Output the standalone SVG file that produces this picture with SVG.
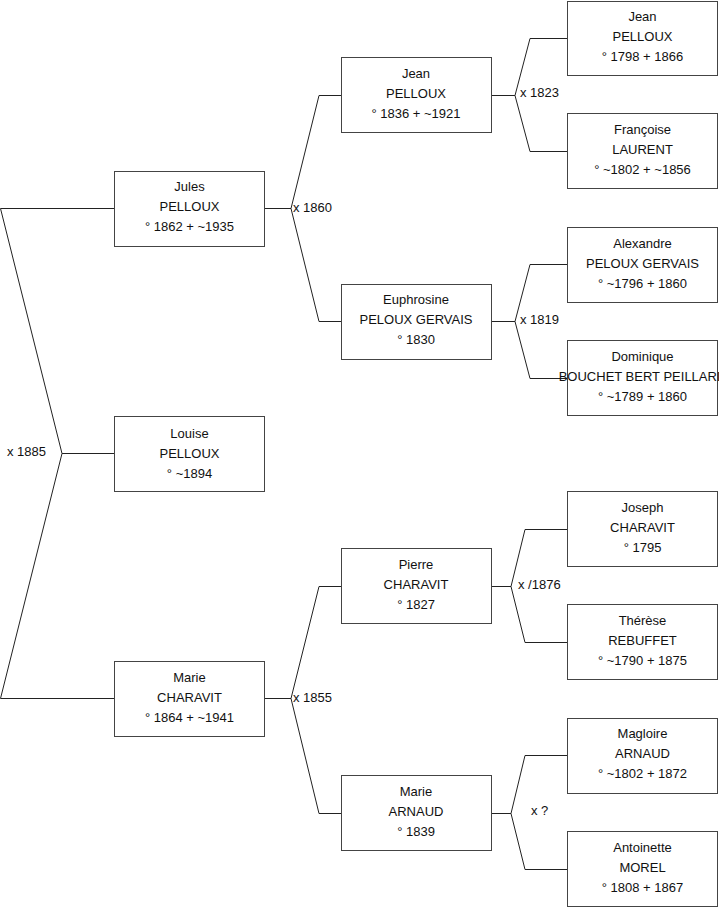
<svg xmlns="http://www.w3.org/2000/svg" width="719" height="908" viewBox="0 0 719 908">
<style>
.box{fill:#fff;stroke:#444;stroke-width:1}
.t{font-family:"Liberation Sans",Arial,sans-serif;font-size:13px;fill:#111;text-anchor:middle}
.l{font-family:"Liberation Sans",Arial,sans-serif;font-size:13px;fill:#111}
.c{fill:none;stroke:#222;stroke-width:1}
</style>
<g id="connectors">
<polyline class="c" points="114,208.5 0.5,208.5 62,453.5 0.5,698.5 114,698.5"/>
<line class="c" x1="62" y1="453.5" x2="114" y2="453.5"/>
<polyline class="c" points="265,208.5 291,208.5"/>
<polyline class="c" points="341,95.5 319,95.5 291,208.5 319,321.5 341,321.5"/>
<polyline class="c" points="265,698.5 291,698.5"/>
<polyline class="c" points="341,586.5 319,586.5 291,698.5 319,813.5 341,813.5"/>
<polyline class="c" points="491,95.5 515,95.5"/>
<polyline class="c" points="567,38.5 530,38.5 515,95.5 530,151.5 567,151.5"/>
<polyline class="c" points="491,321.5 515,321.5"/>
<polyline class="c" points="567,264.5 530,264.5 515,321.5 530,378.5 567,378.5"/>
<polyline class="c" points="491,586.5 511,586.5"/>
<polyline class="c" points="567,529.5 525,529.5 511,586.5 525,642.5 567,642.5"/>
<polyline class="c" points="491,813.5 511,813.5"/>
<polyline class="c" points="567,755.5 525,755.5 511,813.5 525,869.5 567,869.5"/>
<text class="l" x="7" y="456">x 1885</text>
<text class="l" x="293" y="212">x 1860</text>
<text class="l" x="293" y="702">x 1855</text>
<text class="l" x="520" y="97">x 1823</text>
<text class="l" x="520" y="324">x 1819</text>
<text class="l" x="518" y="589">x /1876</text>
<text class="l" x="531" y="815">x ?</text>
</g>
<g id="jules">
<rect class="box" x="114.5" y="171.5" width="150" height="75"/>
<text class="t" x="189.5" y="191">Jules</text>
<text class="t" x="189.5" y="211">PELLOUX</text>
<text class="t" x="189.5" y="231">° 1862 + ~1935</text>
</g>
<g id="louise">
<rect class="box" x="114.5" y="416.5" width="150" height="75"/>
<text class="t" x="189.5" y="438">Louise</text>
<text class="t" x="189.5" y="458">PELLOUX</text>
<text class="t" x="189.5" y="478">° ~1894</text>
</g>
<g id="marie-charavit">
<rect class="box" x="114.5" y="661.5" width="150" height="75"/>
<text class="t" x="189.5" y="682">Marie</text>
<text class="t" x="189.5" y="702">CHARAVIT</text>
<text class="t" x="189.5" y="722">° 1864 + ~1941</text>
</g>
<g id="jean-1836">
<rect class="box" x="341.5" y="57.5" width="150" height="75"/>
<text class="t" x="416" y="78">Jean</text>
<text class="t" x="416" y="98">PELLOUX</text>
<text class="t" x="416" y="118">° 1836 + ~1921</text>
</g>
<g id="euphrosine">
<rect class="box" x="341.5" y="284.5" width="150" height="75"/>
<text class="t" x="416" y="304">Euphrosine</text>
<text class="t" x="416" y="324">PELOUX GERVAIS</text>
<text class="t" x="416" y="344">° 1830</text>
</g>
<g id="pierre">
<rect class="box" x="341.5" y="548.5" width="150" height="75"/>
<text class="t" x="416" y="569">Pierre</text>
<text class="t" x="416" y="589">CHARAVIT</text>
<text class="t" x="416" y="609">° 1827</text>
</g>
<g id="marie-arnaud">
<rect class="box" x="341.5" y="775.5" width="150" height="75"/>
<text class="t" x="416" y="796">Marie</text>
<text class="t" x="416" y="816">ARNAUD</text>
<text class="t" x="416" y="836">° 1839</text>
</g>
<g id="jean-1798">
<rect class="box" x="567.5" y="1.5" width="150" height="74"/>
<text class="t" x="642.5" y="21">Jean</text>
<text class="t" x="642.5" y="41">PELLOUX</text>
<text class="t" x="642.5" y="61">° 1798 + 1866</text>
</g>
<g id="francoise">
<rect class="box" x="567.5" y="113.5" width="150" height="75"/>
<text class="t" x="642.5" y="134">Françoise</text>
<text class="t" x="642.5" y="154">LAURENT</text>
<text class="t" x="642.5" y="174">° ~1802 + ~1856</text>
</g>
<g id="alexandre">
<rect class="box" x="567.5" y="227.5" width="150" height="75"/>
<text class="t" x="642.5" y="248">Alexandre</text>
<text class="t" x="642.5" y="268">PELOUX GERVAIS</text>
<text class="t" x="642.5" y="288">° ~1796 + 1860</text>
</g>
<g id="dominique">
<rect class="box" x="567.5" y="340.5" width="150" height="75"/>
<text class="t" x="642.5" y="361">Dominique</text>
<text class="t" x="642.5" y="381">BOUCHET BERT PEILLARD</text>
<text class="t" x="642.5" y="401">° ~1789 + 1860</text>
</g>
<g id="joseph">
<rect class="box" x="567.5" y="491.5" width="150" height="75"/>
<text class="t" x="642.5" y="512">Joseph</text>
<text class="t" x="642.5" y="532">CHARAVIT</text>
<text class="t" x="642.5" y="552">° 1795</text>
</g>
<g id="therese">
<rect class="box" x="567.5" y="604.5" width="150" height="75"/>
<text class="t" x="642.5" y="625">Thérèse</text>
<text class="t" x="642.5" y="645">REBUFFET</text>
<text class="t" x="642.5" y="665">° ~1790 + 1875</text>
</g>
<g id="magloire">
<rect class="box" x="567.5" y="718.5" width="150" height="75"/>
<text class="t" x="642.5" y="738">Magloire</text>
<text class="t" x="642.5" y="758">ARNAUD</text>
<text class="t" x="642.5" y="778">° ~1802 + 1872</text>
</g>
<g id="antoinette">
<rect class="box" x="567.5" y="831.5" width="150" height="75"/>
<text class="t" x="642.5" y="852">Antoinette</text>
<text class="t" x="642.5" y="872">MOREL</text>
<text class="t" x="642.5" y="892">° 1808 + 1867</text>
</g>
</svg>
